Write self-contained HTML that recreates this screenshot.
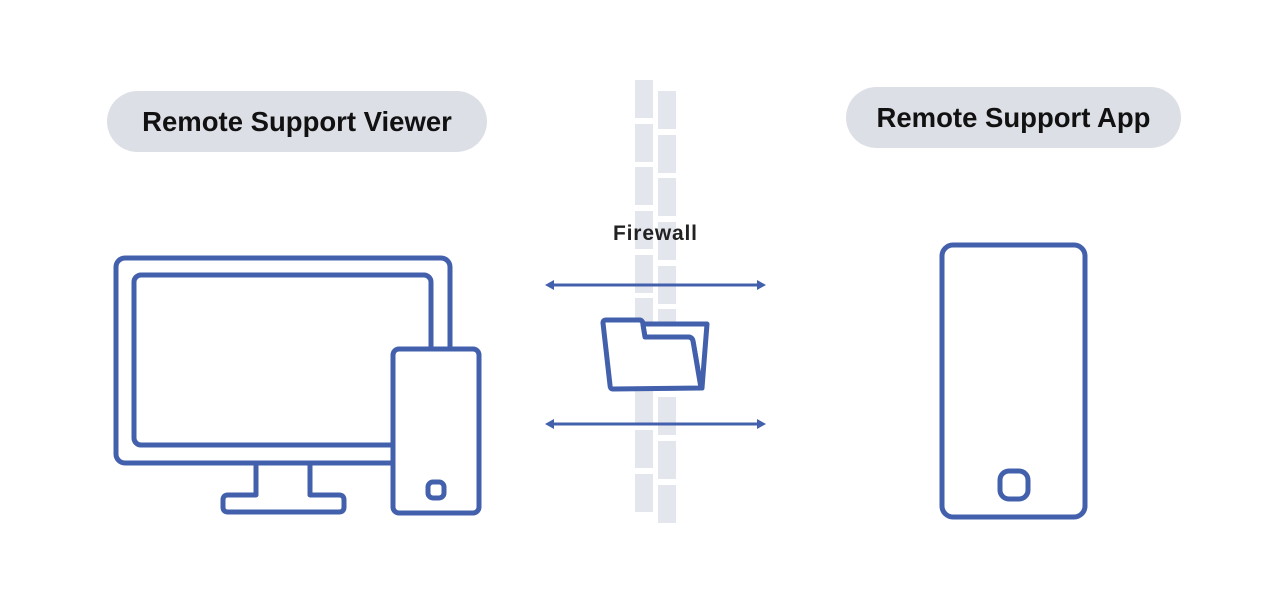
<!DOCTYPE html>
<html><head><style>
body{margin:0;background:#fff;width:1282px;height:602px;overflow:hidden;font-family:"Liberation Sans",sans-serif}
.pill{position:absolute;background:#dcdfe5;border-radius:31px;display:flex;align-items:center;justify-content:center;font-weight:bold;font-size:27.5px;color:#111}
</style></head><body>
<div class="pill" style="left:107px;top:91px;width:380px;height:61px">Remote Support Viewer</div>
<div class="pill" style="left:846px;top:87px;width:335px;height:61px">Remote Support App</div>
<svg width="1282" height="602" style="position:absolute;left:0;top:0">
<g fill="#e3e6ed">
<rect x="635" y="80" width="18" height="38"/><rect x="635" y="124" width="18" height="38"/><rect x="635" y="167" width="18" height="38"/><rect x="635" y="211" width="18" height="38"/><rect x="635" y="255" width="18" height="38"/><rect x="635" y="298" width="18" height="38"/><rect x="635" y="342" width="18" height="38"/><rect x="635" y="386" width="18" height="38"/><rect x="635" y="430" width="18" height="38"/><rect x="635" y="474" width="18" height="38"/>
<rect x="658" y="91" width="18" height="38"/><rect x="658" y="135" width="18" height="38"/><rect x="658" y="178" width="18" height="38"/><rect x="658" y="222" width="18" height="38"/><rect x="658" y="266" width="18" height="38"/><rect x="658" y="309" width="18" height="38"/><rect x="658" y="353" width="18" height="38"/><rect x="658" y="397" width="18" height="38"/><rect x="658" y="441" width="18" height="38"/><rect x="658" y="485" width="18" height="38"/>
</g>
<text x="655" y="240" text-anchor="middle" font-family="Liberation Sans" font-weight="bold" font-size="21" fill="#222" textLength="84">Firewall</text>
<g stroke="#4360ad" stroke-width="3" fill="#4360ad">
<line x1="550" y1="285" x2="761" y2="285"/><line x1="550" y1="424" x2="761" y2="424"/>
</g>
<g fill="#4360ad">
<polygon points="545,285 554,280 554,290"/><polygon points="766,285 757,280 757,290"/>
<polygon points="545,424 554,419 554,429"/><polygon points="766,424 757,419 757,429"/>
</g>
<g fill="none" stroke="#4360ad" stroke-width="5" stroke-linejoin="round">
<path d="M606,320 L639,320 Q643,320 643,325 L645,337 L688,337 Q692,337 693,341 L701,388 L702,388 L707,324 L645,324" fill="#fff"/>
<path d="M606,320 L639,320 Q643,320 643,325 L645,337 L688,337 Q692,337 693,341 L701,388 L613,389 Q610,389 610,385 L603,323 Q603,320 606,320 Z" fill="#fff"/>
<rect x="116" y="258" width="334" height="205" rx="9"/>
<rect x="134" y="275" width="297" height="170" rx="7"/>
<path d="M256,465 V495 H228 Q223,495 223,500 V507 Q223,512 228,512 H339 Q344,512 344,507 V500 Q344,495 339,495 H310 V465"/>
<rect x="393" y="349" width="86" height="164" rx="6" fill="#fff"/>
<rect x="428" y="482" width="16" height="16" rx="5"/>
<rect x="942" y="245" width="143" height="272" rx="11"/>
<rect x="1000" y="471" width="28" height="28" rx="9"/>
</g>
</svg>
</body></html>
